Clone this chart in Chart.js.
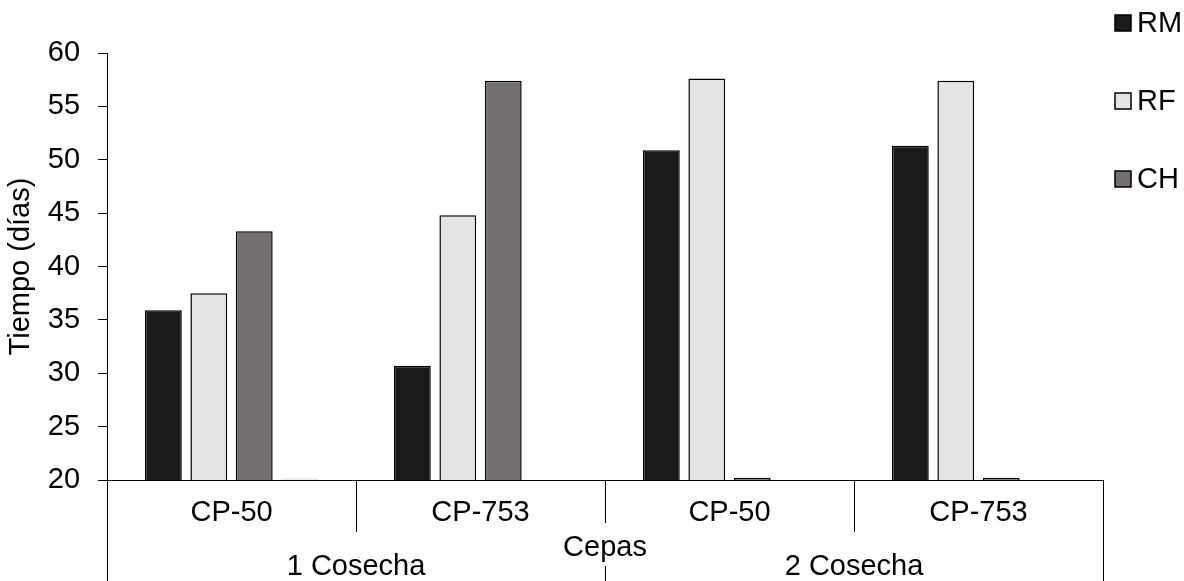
<!DOCTYPE html>
<html>
<head>
<meta charset="utf-8">
<script src="https://cdn.jsdelivr.net/npm/chart.js@4"></script>
<style>
  html, body { margin: 0; padding: 0; background: #fff; }
  #wrap { width: 1184px; height: 581px; }
</style>
</head>
<body>
<div id="wrap"><canvas id="myChart"></canvas></div>
<script>
var strains = ["CP-50", "CP-753", "CP-50", "CP-753"];
var harvests = ["1 Cosecha", "2 Cosecha"];
var seriesNames = ["RM", "RF", "CH"];
var rmValues = [35.9, 30.7, 50.9, 51.3];
var rfValues = [37.5, 44.8, 57.6, 57.4];
var chValues = [43.3, 57.4, 20.2, 20.2];
var extraValues = [20.15, null, null, null];
var yTicks = [20, 25, 30, 35, 40, 45, 50, 55, 60];

var colors = ["#1a1a1a", "#e4e4e4", "#747070"];
var font = '"Liberation Sans", Arial, sans-serif';

Chart.defaults.font.family = font;
Chart.defaults.color = "#000";

// legend drawn at the right, spaced like the original
var sideLegend = {
  id: "sideLegend",
  afterDraw: function(chart) {
    var ctx = chart.ctx;
    var left = chart.chartArea.right + 12;
    ctx.save();
    ctx.font = "29px " + font;
    ctx.textBaseline = "middle";
    seriesNames.forEach(function(name, i) {
      var y = 23 + i * 78;
      ctx.fillStyle = colors[i];
      ctx.fillRect(left, y - 8, 16, 16);
      ctx.strokeStyle = "#000";
      ctx.lineWidth = 1.5;
      ctx.strokeRect(left, y - 8, 16, 16);
      ctx.fillStyle = "#000";
      ctx.fillText(name, left + 22, y + 1);
    });
    ctx.restore();
  }
};

// tick separators: full at the edges, short inside a harvest, broken at the middle
function separatorDash(ctx) {
  var i = ctx.index;
  if (i === 1 || i === 3) return [51, 200];
  if (i === 2) return [42, 43, 200];
  return [];
}

var ctx = document.getElementById("myChart").getContext("2d");
var myChart = new Chart(ctx, {
  type: "bar",
  data: {
    labels: strains,
    datasets: [
      { label: seriesNames[0], data: rmValues, backgroundColor: colors[0] },
      { label: seriesNames[1], data: rfValues, backgroundColor: colors[1] },
      { label: seriesNames[2], data: chValues, backgroundColor: colors[2] },
      { label: "", data: extraValues, backgroundColor: "#e8e8e8", borderWidth: 0 }
    ]
  },
  options: {
    responsive: true,
    maintainAspectRatio: false,
    animation: false,
    datasets: {
      bar: {
        borderColor: "#000",
        borderWidth: 1.5,
        borderSkipped: false,
        categoryPercentage: 0.73,
        barPercentage: 0.81
      }
    },
    layout: {
      padding: { top: 53, right: 81, bottom: 0, left: 0 }
    },
    plugins: {
      legend: { display: false },
      tooltip: { enabled: false }
    },
    scales: {
      x: {
        offset: true,
        grid: {
          offset: true,
          drawOnChartArea: false,
          drawTicks: true,
          tickLength: 101,
          tickColor: "#000",
          tickWidth: 1,
          tickBorderDash: separatorDash
        },
        border: { display: true, color: "#000", width: 1 },
        ticks: { font: { size: 29 }, padding: -85.4, maxRotation: 0 },
        title: {
          display: true,
          text: "Cepas",
          font: { size: 29 },
          padding: { top: 85.6, bottom: 15.6 }
        }
      },
      x2: {
        type: "category",
        labels: harvests,
        position: "bottom",
        weight: 1,
        offset: true,
        grid: { display: false, drawTicks: false, offset: true },
        border: { display: false },
        ticks: { font: { size: 29 }, mirror: true, padding: -3.4, maxRotation: 0 }
      },
      y: {
        min: 20,
        max: 60,
        afterBuildTicks: function(scale) {
          scale.ticks = yTicks.map(function(v) { return { value: v }; });
        },
        grid: {
          drawOnChartArea: false,
          drawTicks: true,
          tickLength: 9,
          tickColor: "#000",
          tickWidth: 1
        },
        border: { display: true, color: "#000", width: 1 },
        ticks: { font: { size: 29 }, padding: 18 },
        title: {
          display: true,
          text: "Tiempo (días)",
          font: { size: 29 },
          padding: { top: 4, bottom: -9 }
        }
      }
    }
  },
  plugins: [sideLegend]
});
</script>
</body>
</html>
